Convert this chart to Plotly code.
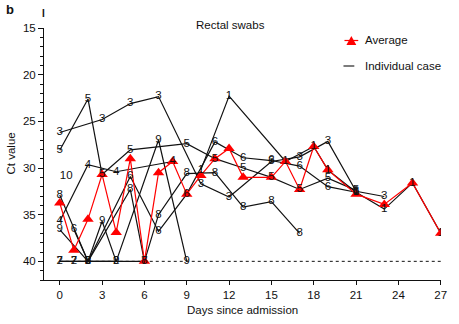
import plotly.graph_objects as go

# ---------------- data ----------------
case_ids = ["1", "2", "3", "4", "5", "6", "7", "8", "9", "10"]

case1_days = [10, 12, 16, 18, 19, 21, 23, 25, 27]
case1_ct = [30.2, 22.3, 29.3, 27.7, 30.2, 32.6, 34.4, 31.6, 37.0]

case2_days = [0, 1, 2, 4]
case2_ct = [40, 40, 40, 40]

case3_days = [0, 3, 5, 7, 10, 12, 15, 17, 19, 21, 23]
case3_ct = [26.2, 24.8, 23.1, 22.35, 31.7, 33.1, 29.3, 28.8, 27.15, 32.5, 33.05]

case4_days = [0, 2, 4, 8]
case4_ct = [35.7, 29.65, 30.4, 29.3]

case5_days = [0, 2, 3, 5, 9, 11, 13, 15, 17, 19, 21]
case5_ct = [28.1, 22.6, 30.7, 28.05, 27.4, 29.0, 30.0, 31.0, 32.3, 31.1, 32.4]

case6_days = [1, 2, 5, 7, 9, 11, 13, 15, 17, 19, 21]
case6_ct = [36.6, 40, 30.9, 36.8, 32.8, 27.2, 28.9, 29.2, 29.8, 32.0, 32.6]

case7_days = [0, 1, 2, 6]
case7_ct = [40, 40, 40, 40]

case8_days = [0, 2, 5, 6, 7, 9, 11, 13, 15, 17]
case8_ct = [32.9, 40, 32.3, 40, 35.0, 30.6, 30.5, 34.2, 33.6, 37.0]

case9_days = [0, 2, 3, 4, 7, 9]
case9_ct = [36.6, 40, 35.7, 40, 27.0, 40]

case10_days = [0]
case10_ct = [30.9]

avg_days = [0, 1, 2, 3, 4, 5, 6, 7, 8, 9, 10, 11, 12, 13, 15, 16, 17, 18, 19, 21, 23, 25, 27]
avg_ct = [33.75, 38.8, 35.5, 30.7, 36.9, 29.0, 40, 30.5, 29.3, 32.8, 30.8, 29.0, 27.9,
          31.0, 31.0, 29.3, 32.3, 27.7, 30.2, 32.8, 33.9, 31.6, 37.0]

detection_limit = 40
x_ticks = [0, 3, 6, 9, 12, 15, 18, 21, 24, 27]
y_ticks = [15, 20, 25, 30, 35, 40]

cases = [
    ("1", case1_days, case1_ct), ("2", case2_days, case2_ct), ("3", case3_days, case3_ct),
    ("4", case4_days, case4_ct), ("5", case5_days, case5_ct), ("6", case6_days, case6_ct),
    ("7", case7_days, case7_ct), ("8", case8_days, case8_ct), ("9", case9_days, case9_ct),
    ("10", case10_days, case10_ct),
]

# ---------------- layout geometry ----------------
W, H = 459, 324
L, R, T, B = 44, 12, 28, 44
PW, PH = W - L - R, H - T - B
FONT = "Liberation Sans, Arial, Helvetica, sans-serif"
BLACK = "#111111"
RED = "#ff0000"


def pxx(x):
    return (x - L) / PW


def pxy(y):
    return (H - B - y) / PH


fig = go.Figure()

# individual case lines
for cid, d, c in cases:
    fig.add_trace(go.Scatter(x=d, y=c, mode="lines", line=dict(color=BLACK, width=1.2),
                             hoverinfo="skip", showlegend=False))

# average
fig.add_trace(go.Scatter(x=avg_days, y=avg_ct, mode="lines+markers",
                         line=dict(color=RED, width=1.2),
                         marker=dict(symbol="triangle-up", size=10, color=RED),
                         showlegend=False, name="Average"))

# case number glyphs on top
for cid, d, c in cases:
    fig.add_trace(go.Scatter(x=d, y=c, mode="text", text=[cid] * len(d),
                             textposition="middle right" if cid == "10" else "middle center",
                             textfont=dict(family=FONT, size=11.5, color=BLACK),
                             hoverinfo="skip", showlegend=False))

# detection limit dotted line
fig.add_shape(type="line", xref="x", yref="y", x0=x_ticks[0], x1=x_ticks[-1],
              y0=detection_limit, y1=detection_limit,
              line=dict(color=BLACK, width=1, dash="dot"), layer="below")

# legend (drawn by hand to match the reference)
fig.add_shape(type="line", xref="paper", yref="paper", x0=pxx(349), x1=pxx(363),
              y0=pxy(40.5), y1=pxy(40.5), line=dict(color=RED, width=1.2))
tri_cx, tri_cy, tri_h, tri_w = 356, 40.5, 9, 10
fig.add_shape(type="path", xref="paper", yref="paper",
              path=f"M {pxx(tri_cx - tri_w / 2)} {pxy(tri_cy + tri_h / 2)} "
                   f"L {pxx(tri_cx + tri_w / 2)} {pxy(tri_cy + tri_h / 2)} "
                   f"L {pxx(tri_cx)} {pxy(tri_cy - tri_h / 2)} Z",
              fillcolor=RED, line=dict(color=RED, width=0))
fig.add_shape(type="line", xref="paper", yref="paper", x0=pxx(348), x1=pxx(359),
              y0=pxy(66), y1=pxy(66), line=dict(color=BLACK, width=1.1))

ann = [
    dict(text="<b>b</b>", x=pxx(9), y=pxy(9), size=13),
    dict(text="<b>I</b>", x=pxx(43.5), y=pxy(14), size=10),
    dict(text="Rectal swabs", x=pxx(233), y=pxy(25), size=11.5),
    dict(text="Days since admission", x=pxx(246), y=pxy(310), size=11.5),
    dict(text="Ct value", x=pxx(10), y=pxy(154), size=11.5, textangle=-90),
    dict(text="Average", x=pxx(368), y=pxy(40), size=11.5, xanchor="left"),
    dict(text="Individual case", x=pxx(368), y=pxy(66), size=11.5, xanchor="left"),
]
for a in ann:
    fig.add_annotation(text=a["text"], x=a["x"], y=a["y"], xref="paper", yref="paper",
                       showarrow=False, xanchor=a.get("xanchor", "center"), yanchor="middle",
                       textangle=a.get("textangle", 0),
                       font=dict(family=FONT, size=a["size"], color=BLACK))

fig.update_layout(
    width=W, height=H, margin=dict(l=L, r=R, t=T, b=B, pad=0),
    paper_bgcolor="white", plot_bgcolor="white",
    font=dict(family=FONT, size=11.5, color=BLACK),
    showlegend=False,
    xaxis=dict(range=[-1.117, 27.02], tickvals=x_ticks, ticks="outside", ticklen=4,
               tickcolor=BLACK, showline=True, linecolor=BLACK, linewidth=1,
               showgrid=False, zeroline=False, tickfont=dict(size=11.5)),
    yaxis=dict(range=[42, 15], tickvals=y_ticks, ticks="outside", ticklen=5,
               tickcolor=BLACK, showline=True, linecolor=BLACK, linewidth=1,
               showgrid=False, zeroline=False, tickfont=dict(size=11.5),
               minor=dict(ticks="outside", ticklen=3, dtick=1, tick0=15,
                          tickcolor=BLACK, showgrid=False)),
)

fig.write_html("out.html")
